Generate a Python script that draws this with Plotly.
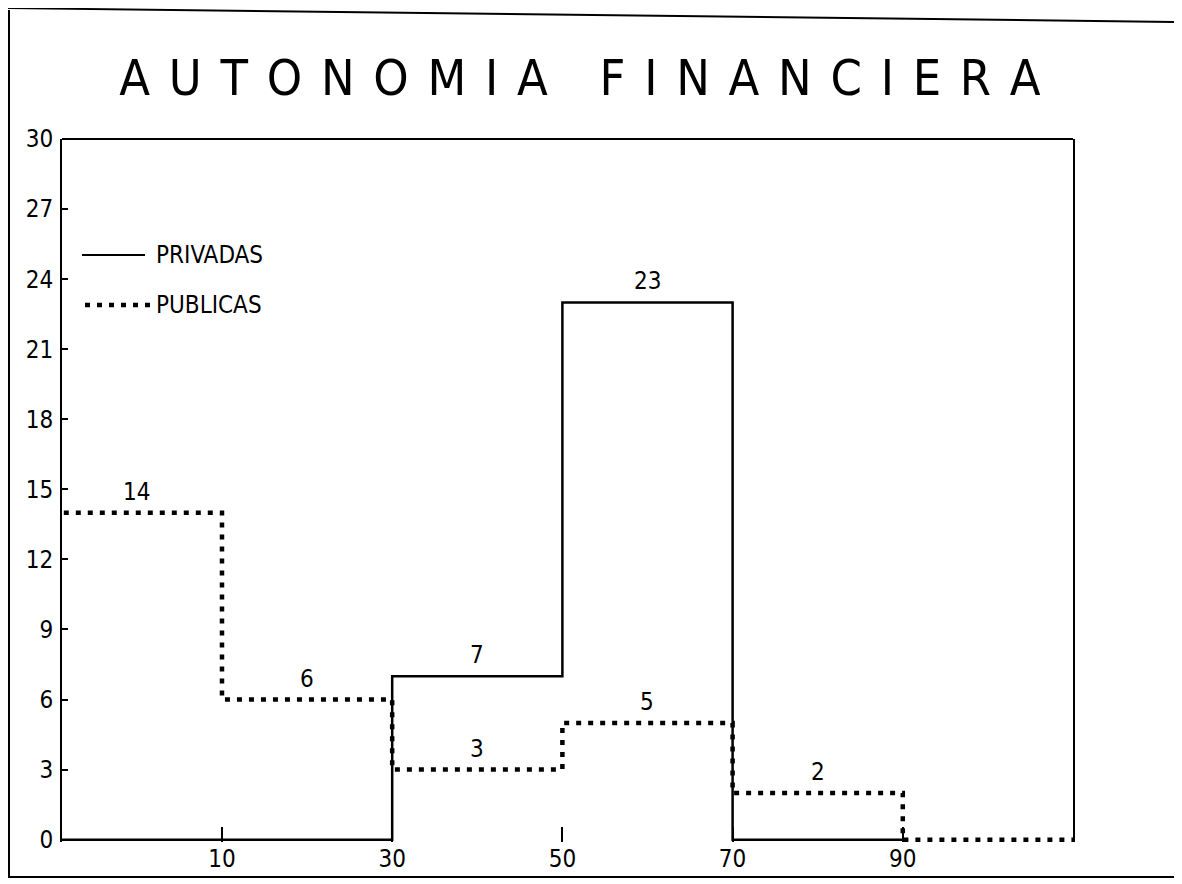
import plotly.graph_objects as go

# ---- data ----
edge_labels = ["10", "30", "50", "70", "90"]
privadas = [0, 0, 7, 23, 0]        # bins: <10, 10-30, 30-50, 50-70, 70-90
publicas = [14, 6, 3, 5, 2, 0]     # bins: <10, 10-30, 30-50, 50-70, 70-90, >90
y_ticks = [0, 3, 6, 9, 12, 15, 18, 21, 24, 27, 30]
title_text = "AUTONOMIA FINANCIERA"

OFF = 8                            # page body margin of the html page
W, H = 1182 - OFF, 884 - OFF
L, R, T, B = 62 - OFF, 1073 - OFF, 139 - OFF, 842 - OFF   # plot area (figure px)

def px_x(p):
    """screen x pixel -> paper coordinate"""
    return (p - OFF - L) / (R - L)

def px_y(p):
    return (B - (p - OFF)) / (B - T)

FONT = "Liberation Sans Narrow, DejaVu Sans Condensed, DejaVu Sans"
TFONT = "DejaVu Sans Condensed, DejaVu Sans"

# spaced-out plotter style title
gap = " \u200a"
spaced_title = (gap + " " + gap).join(gap.join(w) for w in title_text.split(" "))

fig = go.Figure()

# step lines
fig.add_trace(go.Scatter(
    x=list(range(len(privadas) + 1)), y=privadas + [privadas[-1]],
    mode="lines", line=dict(shape="hv", color="black", width=2.5),
    name="PRIVADAS", showlegend=False, hoverinfo="skip"))
fig.add_trace(go.Scatter(
    x=list(range(len(publicas) + 1)), y=publicas + [publicas[-1]],
    mode="lines", line=dict(shape="hv", color="black", width=4.5, dash="5px,7px"),
    name="PUBLICAS", showlegend=False, hoverinfo="skip"))

annotations = []
# value labels
for series in (privadas, publicas):
    for i, v in enumerate(series):
        if v > 0:
            annotations.append(dict(x=i + 0.5, y=v, xref="x", yref="y", text=str(v),
                                    showarrow=False, yshift=21, yanchor="middle",
                                    font=dict(family=FONT, size=24, color="black")))

shapes = []
# top frame line of plot
shapes.append(dict(type="line", xref="paper", yref="paper", x0=0, x1=1, y0=1, y1=1,
                   line=dict(color="black", width=2)))
# page border (scanned sheet)
shapes.append(dict(type="line", xref="paper", yref="paper",
                   x0=px_x(0), x1=px_x(1182), y0=px_y(8), y1=px_y(22),
                   line=dict(color="black", width=2)))
shapes.append(dict(type="line", xref="paper", yref="paper",
                   x0=px_x(9), x1=px_x(9), y0=px_y(10), y1=px_y(877),
                   line=dict(color="black", width=2)))
shapes.append(dict(type="line", xref="paper", yref="paper",
                   x0=px_x(0), x1=px_x(1176), y0=px_y(877), y1=px_y(877),
                   line=dict(color="black", width=2)))
shapes.append(dict(type="line", xref="paper", yref="paper",
                   x0=px_x(1176), x1=px_x(1176), y0=px_y(22), y1=px_y(884),
                   line=dict(color="black", width=2)))
# legend samples
shapes.append(dict(type="line", xref="paper", yref="paper",
                   x0=px_x(82), x1=px_x(145), y0=px_y(255), y1=px_y(255),
                   line=dict(color="black", width=2)))
shapes.append(dict(type="line", xref="paper", yref="paper",
                   x0=px_x(85), x1=px_x(150), y0=px_y(305), y1=px_y(305),
                   line=dict(color="black", width=4.5, dash="5px,7px")))

annotations += [
    dict(xref="paper", yref="paper", x=px_x(154), y=px_y(255), text="PRIVADAS",
         showarrow=False, xanchor="left", yanchor="middle",
         font=dict(family=FONT, size=24, color="black")),
    dict(xref="paper", yref="paper", x=px_x(154), y=px_y(305), text="PUBLICAS",
         showarrow=False, xanchor="left", yanchor="middle",
         font=dict(family=FONT, size=24, color="black")),
]

fig.update_layout(
    width=W, height=H,
    margin=dict(l=L, r=W - R, t=T, b=H - B, pad=0),
    paper_bgcolor="white", plot_bgcolor="white",
    title=dict(text=spaced_title,
               x=(580 - OFF) / W, xanchor="center",
               y=1 - (77 - OFF) / H, yanchor="middle",
               font=dict(family=TFONT, size=50, color="black", weight=200)),
    shapes=shapes, annotations=annotations,
    xaxis=dict(range=[0.06, 6], tickmode="array", tickvals=[1, 2, 3, 4, 5],
               ticktext=edge_labels, ticks="inside", ticklen=15, tickwidth=2,
               tickcolor="black", showgrid=False, zeroline=False, showline=False,
               tickfont=dict(family=FONT, size=24, color="black"), fixedrange=True),
    yaxis=dict(range=[-0.1, 30], tickmode="array", tickvals=y_ticks,
               ticktext=[str(v) for v in y_ticks], ticks="inside", ticklen=6,
               tickwidth=2, tickcolor="black", showgrid=False, zeroline=False,
               showline=True, linecolor="black", linewidth=2, mirror=True,
               ticklabelstandoff=2,
               tickfont=dict(family=FONT, size=24, color="black"), fixedrange=True),
)

fig.write_html("out.html")
